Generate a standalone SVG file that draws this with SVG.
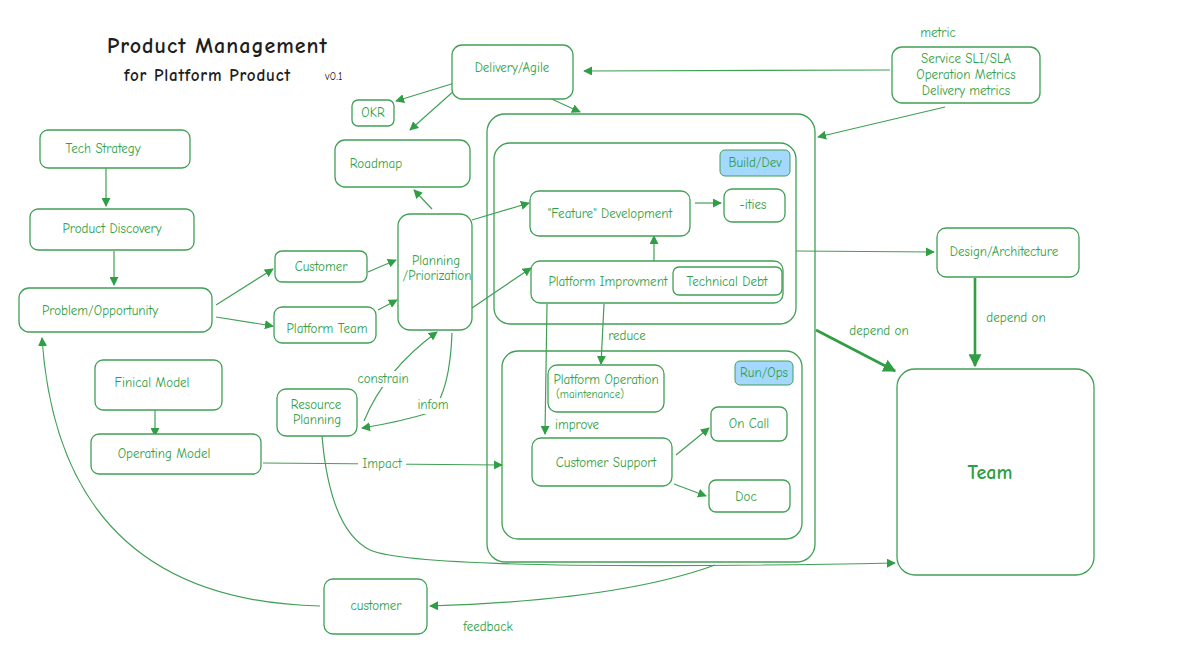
<svg xmlns="http://www.w3.org/2000/svg" width="1196" height="672" viewBox="0 0 1196 672">
<style>
.n{fill:#fff;stroke:#40a055;stroke-width:1.3}
.t{font-family:"Comic Neue","Liberation Sans",sans-serif;font-size:13px;fill:#2f9e44;text-anchor:middle}
.c{fill:none;stroke:#40a055;stroke-width:1.2}
.k{fill:none;stroke:#2f9e44;stroke-width:2.6}
</style>
<defs>
<marker id="a" viewBox="0 0 10 10" refX="9" refY="5" markerWidth="9" markerHeight="9" orient="auto-start-reverse" markerUnits="userSpaceOnUse"><path d="M0,0L10,5L0,10z" fill="#2f9e44"/></marker>
<marker id="b" viewBox="0 0 10 10" refX="9" refY="5" markerWidth="13" markerHeight="13" orient="auto" markerUnits="userSpaceOnUse"><path d="M0,0L10,5L0,10z" fill="#2f9e44"/></marker>
</defs>
<rect width="1196" height="672" fill="#fff"/>
<g id="title" font-family="'Comic Neue','Liberation Sans',sans-serif" fill="#1e1e1e" font-weight="bold">
<text x="107" y="53" font-size="22" letter-spacing="1">Product Management</text>
<text x="124" y="81" font-size="17" letter-spacing="0.8">for Platform Product</text>
<text x="325" y="80" font-size="11" font-weight="normal">v0.1</text>
</g>
<g id="outer"><rect class="n" x="487" y="114" width="328" height="448" rx="18"/></g>
<g id="builddev"><rect class="n" x="494" y="143" width="302" height="181" rx="16"/><rect x="720" y="150" width="70" height="26" rx="5" fill="#a5d8ff" stroke="#40a055"/><text class="t" x="755" y="167">Build/Dev</text></g>
<g id="runops"><rect class="n" x="502" y="351" width="300" height="188" rx="16"/><rect x="735" y="361" width="58" height="24" rx="5" fill="#a5d8ff" stroke="#40a055"/><text class="t" x="764" y="377">Run/Ops</text></g>
<g id="connectors">
<path class="c" d="M106,168V206" marker-end="url(#a)"/>
<path class="c" d="M114,251V285" marker-end="url(#a)"/>
<path class="c" d="M216,305L273,269" marker-end="url(#a)"/>
<path class="c" d="M216,317L273,326" marker-end="url(#a)"/>
<path class="c" d="M368,272L396,260" marker-end="url(#a)"/>
<path class="c" d="M378,310L397,300" marker-end="url(#a)"/>
<path class="c" d="M472,220L529,203" marker-end="url(#a)"/>
<path class="c" d="M472,308L531,268" marker-end="url(#a)"/>
<path class="c" d="M432,209L414,190" marker-end="url(#a)"/>
<path class="c" d="M458,82L396,101" marker-end="url(#a)"/>
<path class="c" d="M455,90L410,130" marker-end="url(#a)"/>
<path class="c" d="M545,96L580,112" marker-end="url(#a)"/>
<path class="c" d="M890,70L584,71" marker-end="url(#a)"/>
<path class="c" d="M945,107L818,137" marker-end="url(#a)"/>
<path class="c" d="M695,203L721,203" marker-end="url(#a)"/>
<path class="c" d="M654,269V236" marker-end="url(#a)"/>
<path class="c" d="M604,304L601,364" marker-end="url(#a)"/>
<path class="c" d="M547,304L545,434" marker-end="url(#a)"/>
<path class="c" d="M796,251L934,252" marker-end="url(#a)"/>
<path class="c" d="M155,410V436" marker-end="url(#a)"/>
<path class="c" d="M263,463L502,465" marker-end="url(#a)"/>
<path class="c" d="M676,455L709,428" marker-end="url(#a)"/>
<path class="c" d="M674,484L706,496" marker-end="url(#a)"/>
<path class="c" d="M364,421Q385,370 437,332" marker-end="url(#a)"/>
<path class="c" d="M452,333Q450,390 432,412Q400,422 362,428" marker-end="url(#a)"/>
<path class="c" d="M322,436Q330,530 370,550Q420,572 895,563" marker-end="url(#a)"/>
<path class="c" d="M715,565Q620,600 430,606" marker-end="url(#a)"/>
<path class="c" d="M320,606Q60,600 42,338" marker-end="url(#a)"/>
<path class="k" d="M816,330L895,371" marker-end="url(#b)"/>
<path class="k" d="M975,278V366" marker-end="url(#b)"/>
<rect x="347" y="371" width="70" height="16" fill="#fff"/>
<text class="t" x="383" y="383">constrain</text>
<rect x="413" y="398" width="40" height="16" fill="#fff"/>
<text class="t" x="433" y="409">infom</text>
<rect x="358" y="456" width="48" height="16" fill="#fff"/>
<text class="t" x="382" y="468">Impact</text>
<text class="t" x="627" y="340">reduce</text>
<text class="t" x="577" y="429">improve</text>
<text class="t" x="879" y="335">depend on</text>
<text class="t" x="1016" y="322">depend on</text>
<text class="t" x="488" y="631">feedback</text>
<text class="t" x="938" y="37">metric</text>
</g>
<g id="delivery"><rect class="n" x="452" y="45" width="121" height="54" rx="10"/><text class="t" x="512" y="72">Delivery/Agile</text></g>
<g id="metrics"><rect class="n" x="892" y="47" width="148" height="56" rx="10"/><text class="t" x="966" y="63">Service SLI/SLA</text><text class="t" x="966" y="79">Operation Metrics</text><text class="t" x="966" y="95">Delivery metrics</text></g>
<g id="okr"><rect class="n" x="352" y="100" width="42" height="26" rx="6"/><text class="t" x="373" y="117">OKR</text></g>
<g id="roadmap"><rect class="n" x="335" y="140" width="135" height="47" rx="10"/><text class="t" x="376" y="168">Roadmap</text></g>
<g id="tech"><rect class="n" x="40" y="130" width="150" height="38" rx="8"/><text class="t" x="103" y="153">Tech Strategy</text></g>
<g id="discovery"><rect class="n" x="30" y="209" width="164" height="41" rx="8"/><text class="t" x="112" y="233">Product Discovery</text></g>
<g id="problem"><rect class="n" x="19" y="288" width="193" height="44" rx="10"/><text class="t" x="100" y="315">Problem/Opportunity</text></g>
<g id="customer1"><rect class="n" x="275" y="251" width="92" height="31" rx="7"/><text class="t" x="321" y="271">Customer</text></g>
<g id="pteam"><rect class="n" x="274" y="307" width="102" height="36" rx="8"/><text class="t" x="327" y="333">Platform Team</text></g>
<g id="planning"><rect class="n" x="398" y="214" width="74" height="116" rx="12"/><text class="t" x="436" y="265">Planning</text><text class="t" x="437" y="280">/Priorization</text></g>
<g id="finical"><rect class="n" x="95" y="360" width="127" height="50" rx="8"/><text class="t" x="152" y="387">Finical Model</text></g>
<g id="opmodel"><rect class="n" x="91" y="434" width="170" height="40" rx="8"/><text class="t" x="164" y="458">Operating Model</text></g>
<g id="resource"><rect class="n" x="277" y="389" width="80" height="47" rx="9"/><text class="t" x="316" y="409">Resource</text><text class="t" x="317" y="424">Planning</text></g>
<g id="feature"><rect class="n" x="530" y="191" width="160" height="45" rx="9"/><text class="t" x="610" y="218">"Feature" Development</text></g>
<g id="ities"><rect class="n" x="724" y="189" width="61" height="33" rx="8"/><text class="t" x="753" y="209">-ities</text></g>
<g id="improve"><rect class="n" x="531" y="261" width="252" height="42" rx="9"/><text class="t" x="608" y="286">Platform Improvment</text></g>
<g id="debt"><rect class="n" x="673" y="267" width="109" height="28" rx="6"/><text class="t" x="727" y="286">Technical Debt</text></g>
<g id="popr"><rect class="n" x="548" y="365" width="116" height="47" rx="9"/><text class="t" x="606" y="384">Platform Operation</text><text class="t" x="590" y="398" style="font-size:11px">(maintenance)</text></g>
<g id="oncall"><rect class="n" x="711" y="407" width="76" height="34" rx="7"/><text class="t" x="749" y="428">On Call</text></g>
<g id="support"><rect class="n" x="532" y="438" width="140" height="48" rx="9"/><text class="t" x="606" y="467">Customer Support</text></g>
<g id="doc"><rect class="n" x="709" y="480" width="81" height="32" rx="7"/><text class="t" x="746" y="501">Doc</text></g>
<g id="design"><rect class="n" x="937" y="228" width="142" height="49" rx="9"/><text class="t" x="1004" y="256">Design/Architecture</text></g>
<g id="team"><rect class="n" x="897" y="369" width="197" height="206" rx="18"/><text class="t" x="990" y="479" style="font-size:20px;font-weight:bold">Team</text></g>
<g id="customer2"><rect class="n" x="324" y="579" width="103" height="55" rx="9"/><text class="t" x="376" y="610">customer</text></g>
</svg>
